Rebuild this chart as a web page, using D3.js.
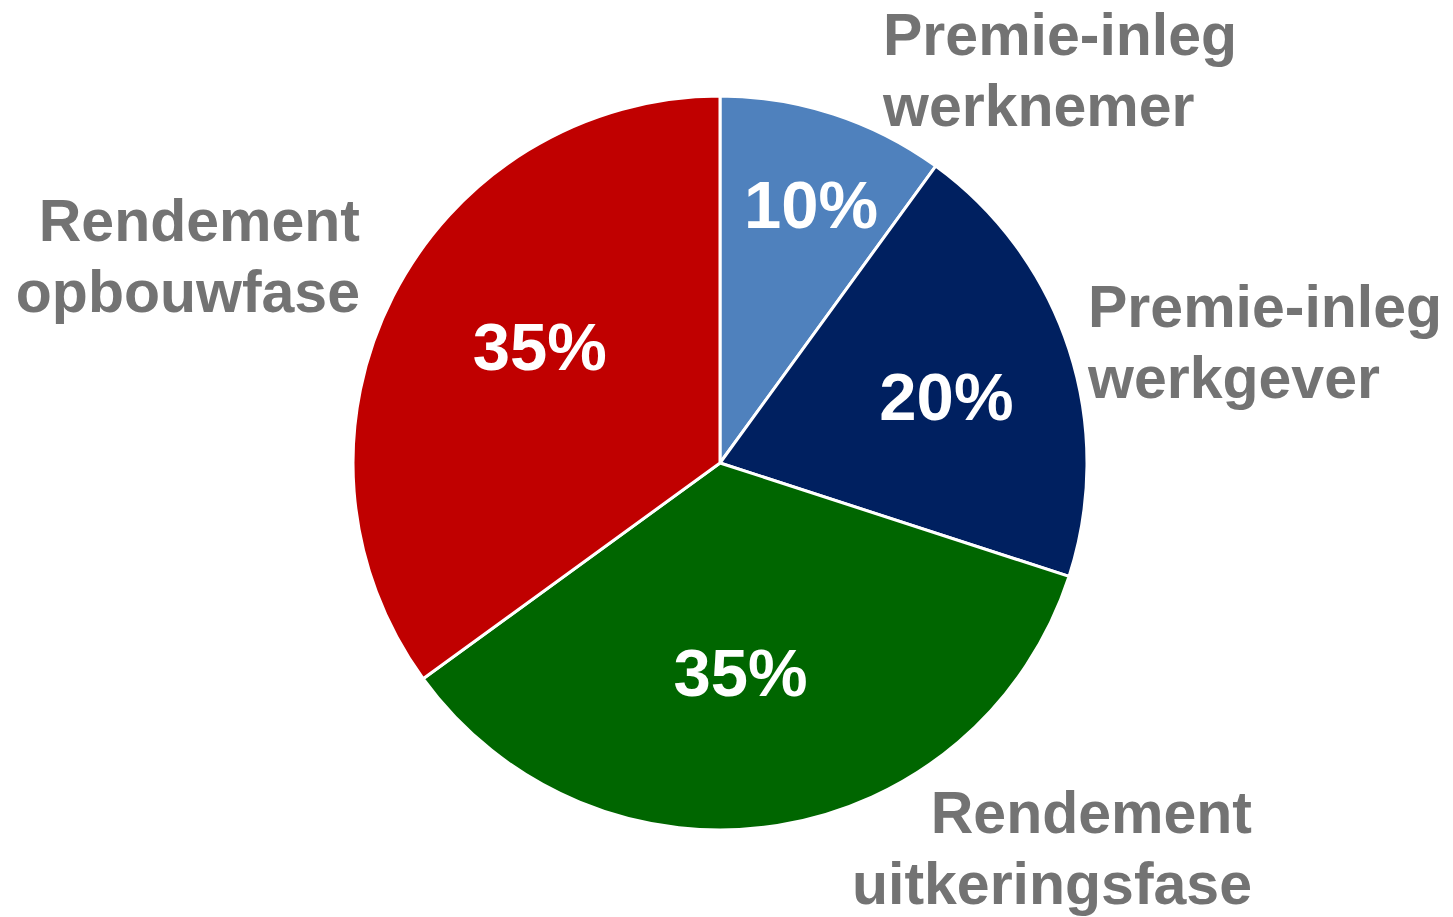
<!DOCTYPE html>
<html>
<head>
<meta charset="utf-8">
<script src="https://cdn.jsdelivr.net/npm/d3@7"></script>
<style>
  html, body { margin: 0; padding: 0; background: #ffffff; }
  svg { display: block; }
</style>
</head>
<body>
<script>
// Chart data
var categories = ["Premie-inleg werknemer", "Premie-inleg werkgever", "Rendement uitkeringsfase", "Rendement opbouwfase"];
var shares = [10, 20, 35, 35];
var sliceColors = ["#4f81bd", "#002060", "#006600", "#c00000"];

// SVG area
var svgWidth = 1453;
var svgHeight = 917;
var cx = 720, cy = 463, radius = 367;

var svg = d3.select("body")
    .append("svg")
    .attr("width", svgWidth)
    .attr("height", svgHeight);

var pieGroup = svg.append("g")
    .attr("transform", `translate(${cx}, ${cy})`);

// Pie layout, starting at 12 o'clock, clockwise, in data order
var pie = d3.pie().sort(null).value(d => d);
var arcs = pie(shares);

var arc = d3.arc().innerRadius(0).outerRadius(radius);
var labelArc = d3.arc().innerRadius(radius * 0.6).outerRadius(radius * 0.6);

pieGroup.selectAll(".slice")
    .data(arcs)
    .enter()
    .append("path")
    .attr("class", "slice")
    .attr("d", arc)
    .attr("fill", (d, i) => sliceColors[i])
    .attr("stroke", "#ffffff")
    .attr("stroke-width", 3)
    .attr("stroke-linejoin", "round");

// percentage labels: centroid plus a small nudge, like the original
var pctNudge = [[23, -50], [17, 1], [-14, -9], [16, -17]];

pieGroup.selectAll(".pct")
    .data(arcs)
    .enter()
    .append("text")
    .attr("class", "pct")
    .attr("x", (d, i) => labelArc.centroid(d)[0] + pctNudge[i][0])
    .attr("y", (d, i) => labelArc.centroid(d)[1] + pctNudge[i][1])
    .attr("dy", "0.36em")
    .attr("text-anchor", "middle")
    .style("font-family", "'Liberation Sans', Arial, sans-serif")
    .style("font-weight", "bold")
    .style("font-size", "67px")
    .style("fill", "#ffffff")
    .text(d => d.data + "%");

// category labels outside the pie (two lines each)
var labelLayout = [
  { x: 883, y: 55, anchor: "start" },
  { x: 1088, y: 327, anchor: "start" },
  { x: 1252, y: 833, anchor: "end" },
  { x: 360, y: 241, anchor: "end" }
];
var lineHeight = 71;

var catText = svg.selectAll(".cat")
    .data(categories)
    .enter()
    .append("text")
    .attr("class", "cat")
    .attr("x", (d, i) => labelLayout[i].x)
    .attr("y", (d, i) => labelLayout[i].y)
    .attr("text-anchor", (d, i) => labelLayout[i].anchor)
    .style("font-family", "'Liberation Sans', Arial, sans-serif")
    .style("font-weight", "bold")
    .style("font-size", "59px")
    .style("fill", "#737373");

catText.each(function (d, i) {
  var words = d.split(" ");
  d3.select(this).selectAll("tspan")
      .data(words)
      .enter()
      .append("tspan")
      .attr("x", labelLayout[i].x)
      .attr("dy", (w, j) => j === 0 ? 0 : lineHeight)
      .text(w => w);
});
</script>
</body>
</html>
